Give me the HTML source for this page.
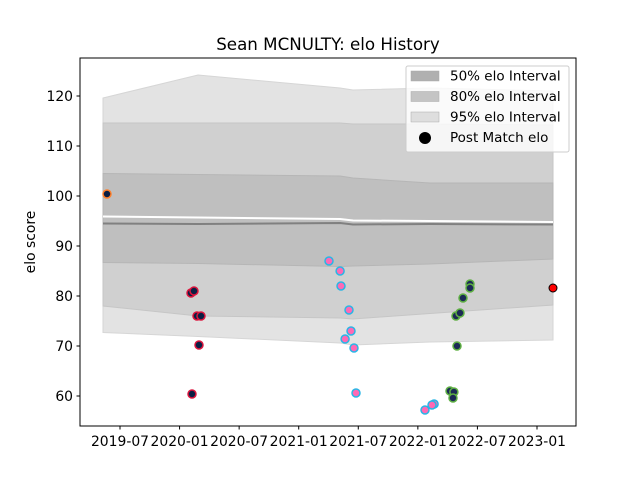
<!DOCTYPE html>
<html><head><meta charset="utf-8"><style>
body{margin:0;background:#fff;width:640px;height:480px;overflow:hidden;font-family:"Liberation Sans","DejaVu Sans",sans-serif}
</style></head><body>
<svg id="chart" width="640" height="480" xmlns="http://www.w3.org/2000/svg" font-family="DejaVu Sans, Liberation Sans, sans-serif"></svg>
<script>
const bandX=[2019.357,2020.155,2021.347,2021.456,2022.102,2023.134];
const up95=[119.6,124.2,121.6,121.2,121.6,121];
const lo95=[72.7,71.9,70.6,70.2,70.8,71.2];
const up80=[114.6,114.6,114.6,114.4,114.4,114.2];
const lo80=[78,76,75.6,75.4,76.5,78.2];
const up50=[104.5,104.3,104,103.6,102.6,102.6];
const lo50=[86.7,86.5,85.9,86,86.4,87.4];
const meanHi=[95.9,95.7,95.4,95.1,95,94.8];
const meanLo=[94.5,94.4,94.6,94.3,94.4,94.3];
const ptX=[2019.391,2020.096,2020.121,2020.146,2020.180,2020.163,2020.104,2021.254,2021.347,2021.355,2021.422,2021.439,2021.389,2021.464,2021.481,2022.060,2022.136,2022.119,2022.438,2022.438,2022.379,2022.320,2022.354,2022.329,2022.270,2022.303,2022.295,2023.134];
const ptY=[100.4,80.6,81,76,76,70.2,60.4,87,85,82,77.2,73,71.4,69.6,60.6,57.2,58.4,58.2,82.4,81.6,79.6,76,76.6,70,61,60.8,59.6,81.6];
const ptGroup=[0,1,1,1,1,1,1,2,2,2,2,2,2,2,2,2,2,2,3,3,3,3,3,3,3,3,3,4];
const yTicks=[60,70,80,90,100,110,120];
const xTickVals=[2019.5,2020,2020.5,2021,2021.5,2022,2022.5,2023];
const xTickLabels=["2019-07","2020-01","2020-07","2021-01","2021-07","2022-01","2022-07","2023-01"];
const faces=["#0b1f44","#0b1f44","#ff69b4","#1b2a55","#ff0000"];
const edges=["#ff7f2a","#dc143c","#29b6e6","#5fb043","#000000"];

const L=80,R=576,T=58,B=426;
const xs=v=>120+(v-2019.5)*119.14;
const ys=v=>396-(v-60)*5;
const svg=document.getElementById('chart');
const NS="http://www.w3.org/2000/svg";
function mk(tag,attrs,parent){const e=document.createElementNS(NS,tag);for(const k in attrs)e.setAttribute(k,attrs[k]);(parent||svg).appendChild(e);return e;}

function band(up,lo,fill,stroke,name){
  let d="";
  bandX.forEach((x,i)=>{d+=(i?"L":"M")+xs(x).toFixed(1)+","+ys(up[i]).toFixed(1);});
  for(let i=bandX.length-1;i>=0;i--)d+="L"+xs(bandX[i]).toFixed(1)+","+ys(lo[i]).toFixed(1);
  const p=mk('path',{d:d+"Z",fill:fill,stroke:stroke,'stroke-width':1});
  
  
}
band(up95,lo95,"#e3e3e3","#d6d6d6","band-95");
band(up80,lo80,"#d0d0d0","#c6c6c6","band-80");
band(up50,lo50,"#bfbfbf","#b6b6b6","band-50");
function line(arr,col,w,name){
  const pts=bandX.map((x,i)=>xs(x).toFixed(1)+","+ys(arr[i]).toFixed(1)).join(" ");
  const p=mk('polyline',{points:pts,fill:"none",stroke:col,'stroke-width':w});
  
  
}
line(meanHi,"#ffffff",2,"mean-upper-line");
line(meanLo,"#808080",2,"mean-line");

ptX.forEach((x,i)=>{
  const g=ptGroup[i];
  const c=mk('circle',{cx:xs(x).toFixed(1),cy:ys(ptY[i]).toFixed(1),r:4,fill:faces[g],stroke:edges[g],'stroke-width':g==4?1:1.5});
  
  
});

const ax=mk('rect',{x:L,y:T,width:R-L,height:B-T,fill:"none",stroke:"#000",'stroke-width':1});


yTicks.forEach(v=>{
  const y=ys(v);
  mk('line',{x1:L-3.5,x2:L,y1:y,y2:y,stroke:"#000"});
  const t=mk('text',{x:L-7,y:y+5,'text-anchor':"end",'font-size':13.9});
  t.textContent=v;
  
  
});
xTickVals.forEach((v,i)=>{
  const x=xs(v);
  mk('line',{x1:x,x2:x,y1:B,y2:B+3.5,stroke:"#000"});
  const t=mk('text',{x:x,y:B+20,'text-anchor':"middle",'font-size':13.9});
  t.textContent=xTickLabels[i];
  
  
});
const title=mk('text',{x:328,y:50,'text-anchor':"middle",'font-size':16.7});
title.textContent="Sean MCNULTY: elo History";


const yl=mk('text',{x:35,y:242,'text-anchor':"middle",'font-size':13.9,transform:"rotate(-90 35 242)"});
yl.textContent="elo score";



const lg=mk('g',{});


mk('rect',{x:406,y:66,width:163,height:86,rx:2,fill:"#fff",'fill-opacity':0.8,stroke:"#ccc"},lg);
const items=[["50% elo Interval","#b0b0b0"],["80% elo Interval","#c4c4c4"],["95% elo Interval","#dedede"],["Post Match elo",null]];
items.forEach((it,i)=>{
  const y=76+i*20.5;
  if(it[1]) mk('rect',{x:411,y:y-5,width:28,height:10,fill:it[1],stroke:"#aaa",'stroke-width':0.5},lg);
  else mk('circle',{cx:425,cy:y+0.5,r:6,fill:"#000"},lg);
  const t=mk('text',{x:450,y:y+4.5,'font-size':13.5},lg);
  t.textContent=it[0];
  
  
});
</script>
</body></html>
